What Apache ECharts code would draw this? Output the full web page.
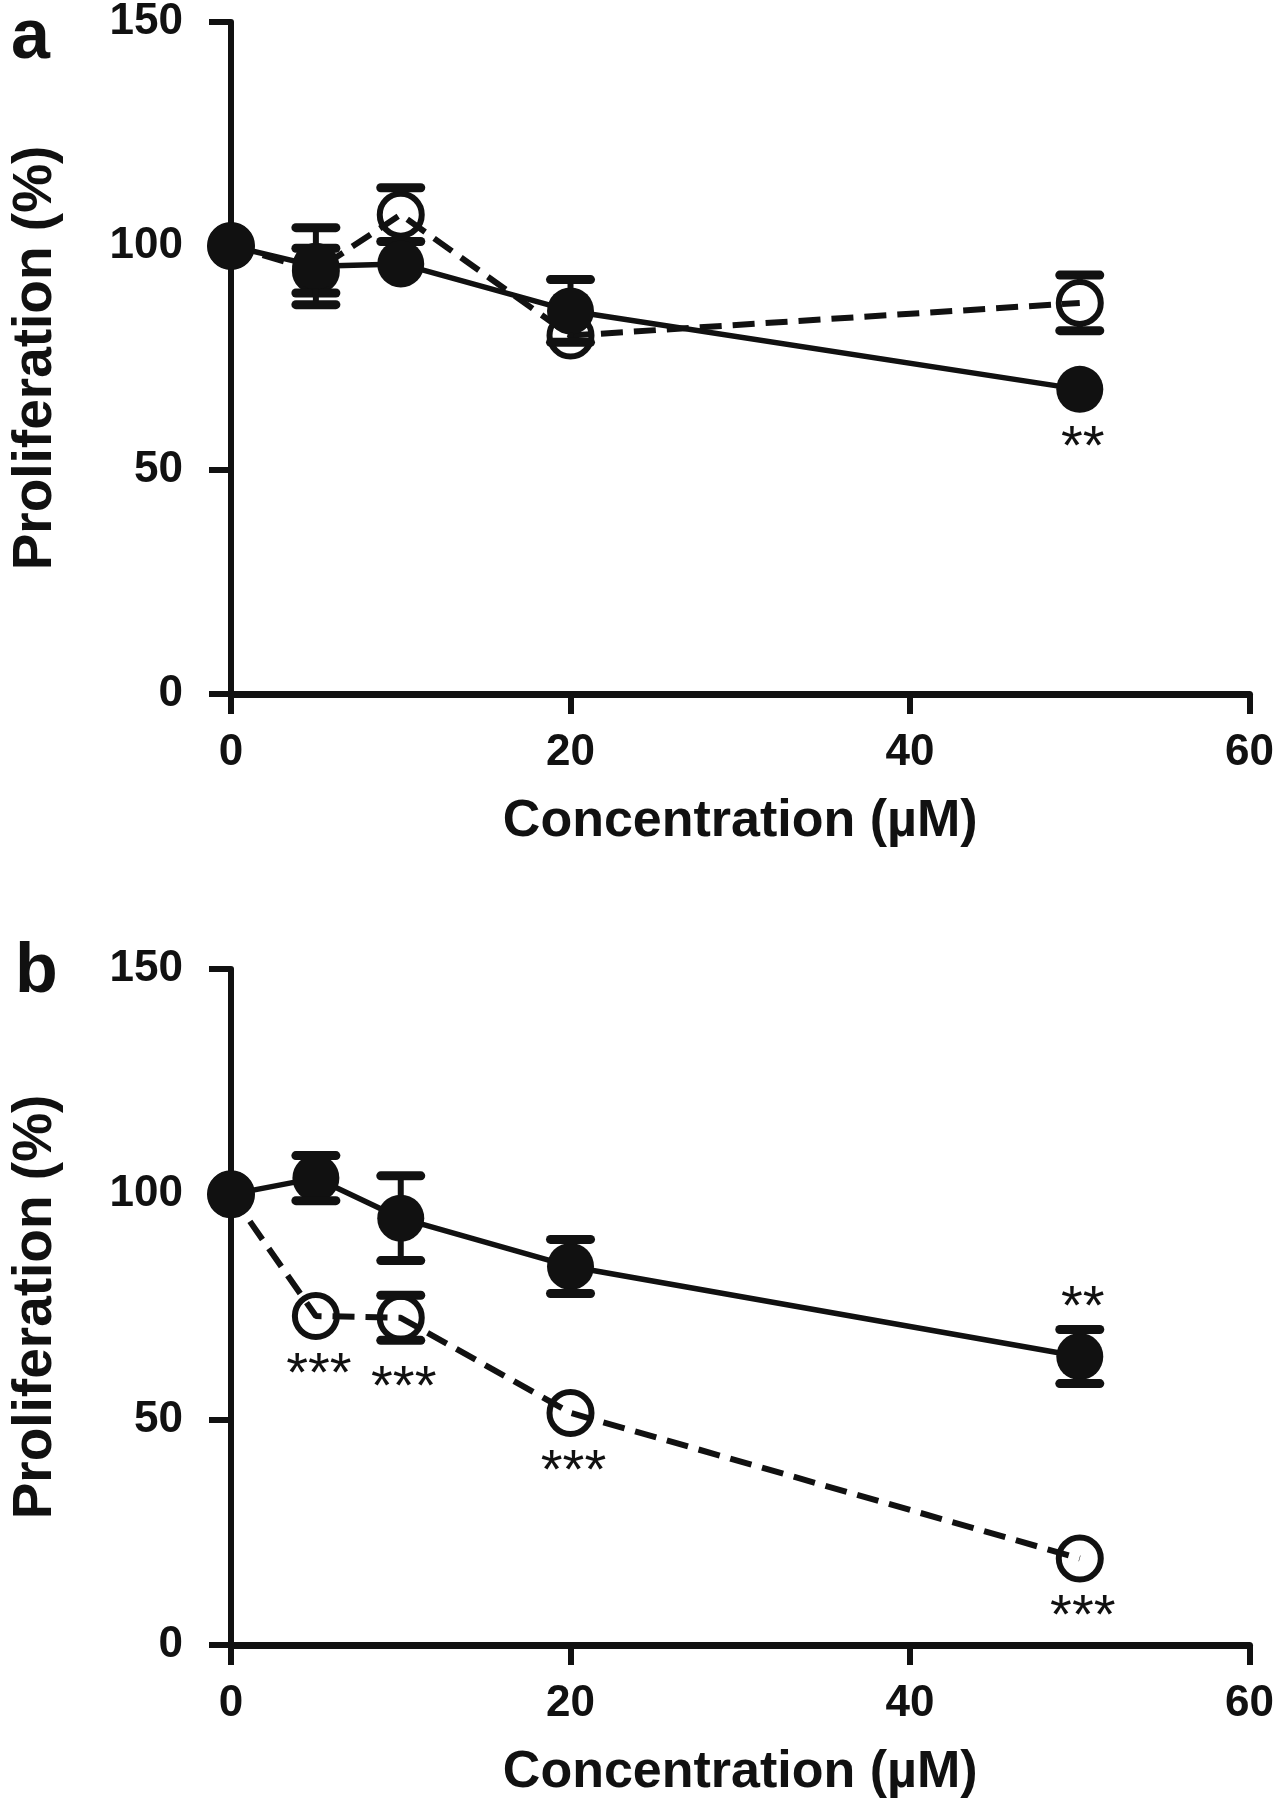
<!DOCTYPE html>
<html><head><meta charset="utf-8">
<script src="https://cdn.jsdelivr.net/npm/echarts@6/dist/echarts.min.js"></script>
<style>html,body{margin:0;padding:0;background:#fff}#c{width:1277px;height:1800px}</style>
</head><body><div id="c"></div>
<script>
// ---- data ----
const concentrations = [0, 5, 10, 20, 50];
const xTickMin = 0, xTickMax = 60, xTickStep = 20;
const yTickMin = 0, yTickMax = 150, yTickStep = 50;
const panelLabels = ['a', 'b'];
const xAxisTitle = 'Concentration (µM)';
const yAxisTitle = 'Proliferation (%)';

// panel a
const aFilledMean = [100, 95.5, 96, 85.5, 68];
const aFilledErr  = [0, 8.6, 2, 7, 2];
const aOpenMean   = [100, 94.5, 107, 80, 87.3];
const aOpenErr    = [0, 5, 6, 3, 6.2];
const aFilledSig  = ['', '', '', '', '**'];
const aOpenSig    = ['', '', '', '', ''];
// panel b
const bFilledMean = [100, 103.6, 94.7, 84, 64];
const bFilledErr  = [0, 5, 9.4, 6, 6];
const bOpenMean   = [100, 73, 72.6, 51.5, 19.2];
const bOpenErr    = [0, 1.5, 5, 2, 1.5];
const bFilledSig  = ['', '', '', '', '**'];
const bOpenSig    = ['', '***', '***', '***', '***'];

// ---- styles ----
const INK = '#111';
const FONT = '"Liberation Sans", Arial, Helvetica, sans-serif';
const R = 22;          // marker radius used to clip error bars
const CAP_HALF = 20;   // half cap length
const CAP_W = 9;

function rows(means, errs) { return concentrations.map((x, i) => [x, means[i], errs[i]]); }

function errRender(params, api) {
  const x = api.value(0), y = api.value(1), e = api.value(2);
  if (!e) return null;
  const c = api.coord([x, y]), t = api.coord([x, y + e]), b = api.coord([x, y - e]);
  const ch = [];
  const ls = { stroke: INK, lineWidth: 6 };
  const cs = { stroke: INK, lineWidth: CAP_W, lineCap: 'round' };
  if (c[1] - t[1] > R) {
    ch.push({ type: 'line', shape: { x1: c[0], y1: t[1], x2: c[0], y2: c[1] - R }, style: ls });
    ch.push({ type: 'line', shape: { x1: c[0] - CAP_HALF, y1: t[1], x2: c[0] + CAP_HALF, y2: t[1] }, style: cs });
  }
  if (b[1] - c[1] > R) {
    ch.push({ type: 'line', shape: { x1: c[0], y1: c[1] + R, x2: c[0], y2: b[1] }, style: ls });
    ch.push({ type: 'line', shape: { x1: c[0] - CAP_HALF, y1: b[1], x2: c[0] + CAP_HALF, y2: b[1] }, style: cs });
  }
  return { type: 'group', children: ch };
}

function sigRender(texts, side) {
  return function (params, api) {
    const t = texts[params.dataIndex];
    if (!t) return null;
    const x = api.value(0), y = api.value(1), e = api.value(2) || 0;
    const c = api.coord([x, y]);
    const ePx = Math.abs(api.coord([x, y + e])[1] - c[1]);
    const off = Math.max(R + 1.5, ePx + CAP_W / 2 + 8) + 22;
    const cy = side === 'above' ? c[1] - off : c[1] + off;
    return { type: 'text', style: { text: t, x: c[0] + 3, y: cy + 14, align: 'center', verticalAlign: 'middle',
      fontSize: 56, fontFamily: FONT, fontWeight: 'normal', fill: INK } };
  };
}

function panelSeries(gi, fM, fE, oM, oE, fSig, oSig, fSide) {
  return [
    { type: 'line', xAxisIndex: gi, yAxisIndex: gi, z: 2, data: rows(oM, oE).map(r => [r[0], r[1]]),
      symbol: 'circle', symbolSize: 42, showSymbol: true,
      itemStyle: { color: 'rgba(255,255,255,0)', borderColor: INK, borderWidth: 6 },
      lineStyle: { color: INK, width: 6, type: [22, 11] } },
    { type: 'custom', xAxisIndex: gi, yAxisIndex: gi, z: 3, renderItem: errRender, data: rows(oM, oE), encode: { x: 0, y: 1 } },
    { type: 'line', xAxisIndex: gi, yAxisIndex: gi, z: 4, data: rows(fM, fE).map(r => [r[0], r[1]]),
      symbol: 'circle', symbolSize: 47, showSymbol: true,
      itemStyle: { color: INK }, lineStyle: { color: INK, width: 5.5 } },
    { type: 'custom', xAxisIndex: gi, yAxisIndex: gi, z: 5, renderItem: errRender, data: rows(fM, fE), encode: { x: 0, y: 1 } },
    { type: 'custom', xAxisIndex: gi, yAxisIndex: gi, z: 6, renderItem: sigRender(oSig, 'below'), data: rows(oM, oE), encode: { x: 0, y: 1 } },
    { type: 'custom', xAxisIndex: gi, yAxisIndex: gi, z: 6, renderItem: sigRender(fSig, fSide), data: rows(fM, fE), encode: { x: 0, y: 1 } }
  ];
}

function xAxis(gi) {
  return { type: 'value', gridIndex: gi, min: xTickMin, max: xTickMax, interval: xTickStep,
    name: xAxisTitle, nameLocation: 'middle', nameGap: 102,
    nameTextStyle: { fontSize: 52, fontWeight: 'bold', fontFamily: FONT, color: INK },
    axisLine: { show: true, onZero: false, lineStyle: { color: INK, width: 7 } },
    axisTick: { show: true, length: 20, lineStyle: { color: INK, width: 6 } },
    axisLabel: { margin: 37, fontSize: 44, fontWeight: 'bold', fontFamily: FONT, color: INK },
    splitLine: { show: false } };
}
function yAxis(gi) {
  return { type: 'value', gridIndex: gi, min: yTickMin, max: yTickMax, interval: yTickStep,
    name: yAxisTitle, nameLocation: 'middle', nameGap: 168, nameRotate: 90,
    nameTextStyle: { fontSize: 55, fontWeight: 'bold', fontFamily: FONT, color: INK },
    axisLine: { show: true, onZero: false, lineStyle: { color: INK, width: 6 } },
    axisTick: { show: true, length: 22, lineStyle: { color: INK, width: 6 } },
    axisLabel: { margin: 48, fontSize: 44, fontWeight: 'bold', fontFamily: FONT, color: INK },
    splitLine: { show: false } };
}

const chart = echarts.init(document.getElementById('c'), null, { renderer: 'canvas' });
chart.setOption({
  backgroundColor: '#fff',
  animation: false,
  grid: [
    { left: 224, right: 21, top: 17, height: 677 },
    { left: 224, right: 21, top: 969, height: 678 }
  ],
  xAxis: [xAxis(0), xAxis(1)],
  yAxis: [yAxis(0), yAxis(1)],
  graphic: [
    { type: 'text', left: 11, top: 4, style: { text: panelLabels[0], fontSize: 70, fontWeight: 'bold', fontFamily: FONT, fill: INK } },
    { type: 'text', left: 15, top: 938, style: { text: panelLabels[1], fontSize: 70, fontWeight: 'bold', fontFamily: FONT, fill: INK } }
  ],
  series: [
    ...panelSeries(0, aFilledMean, aFilledErr, aOpenMean, aOpenErr, aFilledSig, aOpenSig, 'below'),
    ...panelSeries(1, bFilledMean, bFilledErr, bOpenMean, bOpenErr, bFilledSig, bOpenSig, 'above')
  ]
});
</script>
</body></html>
